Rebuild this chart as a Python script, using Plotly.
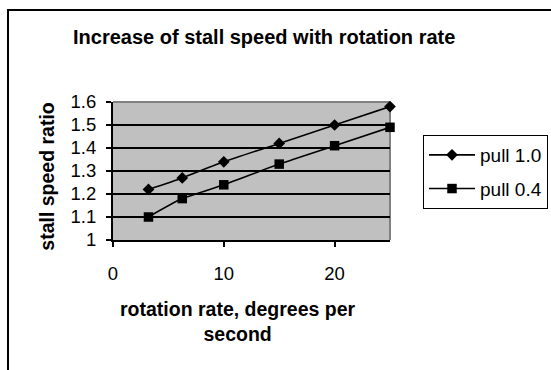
import plotly.graph_objects as go

rotation_rate = [3.2, 6.25, 10, 15, 20, 25]
pull_10 = [1.22, 1.27, 1.34, 1.42, 1.50, 1.58]
pull_04 = [1.10, 1.18, 1.24, 1.33, 1.41, 1.49]
series_names = ["pull 1.0", "pull 0.4"]

W, H = 551, 370
L, R, T, B = 113, 390, 102, 240


def xp(px):
    return (px - L) / (R - L)


def yp(py):
    return (B - py) / (B - T)


FONT = "Liberation Sans, Arial, sans-serif"

fig = go.Figure()
fig.add_trace(go.Scatter(
    x=rotation_rate, y=pull_10, name=series_names[0], mode="lines+markers",
    line=dict(color="black", width=1.6, shape="spline", smoothing=0.6),
    marker=dict(symbol="diamond", size=9, color="black"),
    legendgroup="a", cliponaxis=False,
))
fig.add_trace(go.Scatter(
    x=rotation_rate, y=pull_04, name=series_names[1], mode="lines+markers",
    line=dict(color="black", width=1.6, shape="spline", smoothing=0.6),
    marker=dict(symbol="square", size=9.5, color="black"),
    legendgroup="b", cliponaxis=False,
))

fig.update_layout(
    width=W, height=H,
    margin=dict(l=L, r=W - R, t=T, b=H - B, pad=0, autoexpand=False),
    paper_bgcolor="white",
    plot_bgcolor="#C0C0C0",
    font=dict(family=FONT, color="black", size=18),
    showlegend=True,
    legend=dict(
        xref="container", yref="container",
        x=423 / W, y=1 - 135 / H, xanchor="left", yanchor="top",
        bgcolor="white", bordercolor="black", borderwidth=1,
        font=dict(size=19, family=FONT), itemwidth=46,
        tracegroupgap=6, traceorder="grouped",
    ),
    xaxis=dict(
        range=[0, 25], tickvals=[0, 10, 20], showgrid=False, zeroline=False,
        showline=True, linecolor="black", linewidth=2, ticks="outside",
        ticklen=5, tickwidth=2, tickcolor="black", ticklabelstandoff=11,
        tickfont=dict(size=18.5),
    ),
    yaxis=dict(
        range=[1, 1.6], tickvals=[1, 1.1, 1.2, 1.3, 1.4, 1.5, 1.6],
        ticktext=["1", "1.1", "1.2", "1.3", "1.4", "1.5", "1.6"],
        showgrid=True, gridcolor="black", gridwidth=2, zeroline=False,
        showline=True, linecolor="black", linewidth=2, ticks="outside",
        ticklen=5, tickwidth=2, tickcolor="black", ticklabelstandoff=6,
        tickfont=dict(size=18.5),
    ),
    shapes=[
        dict(type="line", xref="paper", yref="paper", x0=0, x1=1, y0=1, y1=1,
             line=dict(color="#808080", width=2), layer="below"),
        dict(type="line", xref="paper", yref="paper", x0=1, x1=1, y0=0, y1=1,
             line=dict(color="#808080", width=2), layer="below"),
        dict(type="rect", xref="paper", yref="paper",
             x0=xp(8), x1=xp(600), y0=yp(10), y1=yp(420),
             line=dict(color="black", width=2), fillcolor="rgba(0,0,0,0)",
             layer="above"),
    ],
    annotations=[
        dict(text="<b>Increase of stall speed with rotation rate</b>",
             xref="paper", yref="paper", x=xp(264), y=yp(37),
             xanchor="center", yanchor="middle", showarrow=False,
             font=dict(size=20, family=FONT)),
        dict(text="<b>stall speed ratio</b>", textangle=-90,
             xref="paper", yref="paper", x=xp(46.7), y=yp(176),
             xanchor="center", yanchor="middle", showarrow=False,
             font=dict(size=19.5, family=FONT)),
        dict(text="<b>rotation rate, degrees per<br>second</b>",
             xref="paper", yref="paper", x=xp(237.5), y=yp(321),
             xanchor="center", yanchor="middle", showarrow=False,
             font=dict(size=19.5, family=FONT)),
    ],
)

fig.write_html("out.html")
